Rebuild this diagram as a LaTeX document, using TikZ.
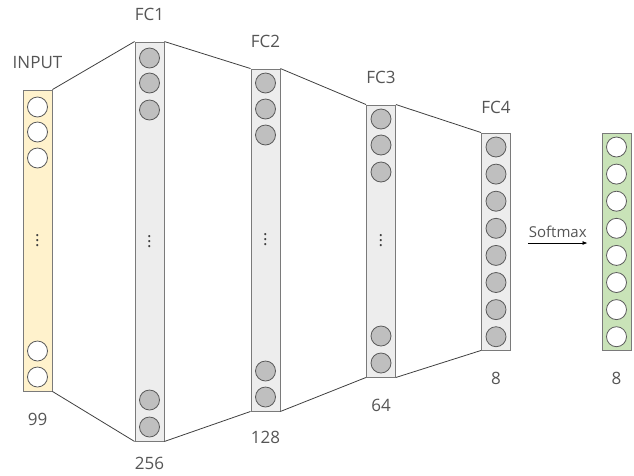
\documentclass[tikz,border=0pt]{standalone}
\usepackage{fontspec}
\setmainfont{Open Sans}
\usepackage{xcolor}
\usetikzlibrary{positioning,arrows.meta}

\definecolor{txtgray}{HTML}{555555}
\definecolor{linegray}{HTML}{404040}
\definecolor{bargray}{HTML}{7A7A7A}
\definecolor{fcfill}{HTML}{EDEDED}
\definecolor{infill}{HTML}{FFF2CC}
\definecolor{outfill}{HTML}{C9E3B8}
\definecolor{unitfill}{HTML}{BFBFBF}
\definecolor{unitline}{HTML}{5A5A5A}

\begin{document}
\begin{tikzpicture}[x=1pt,y=-1pt,
  bar/.style={draw=bargray, fill=fcfill, line width=0.9pt, minimum width=29pt, inner sep=0pt},
  unit/.style={circle, draw=unitline, fill=unitfill, line width=0.8pt, minimum size=20pt, inner sep=0pt},
  openunit/.style={unit, fill=white},
  lbl/.style={text=txtgray, font=\fontsize{17}{20}\selectfont, inner sep=0pt},
  link/.style={draw=linegray, line width=0.8pt}]
  \useasboundingbox (0,0) rectangle (634,475);

  % Layers
  \node[bar, fill=infill, minimum height=301pt] (in) at (37.5,240.5) {};
  \node[bar, minimum height=399pt] (fc1) at (149.5,241.5) {};
  \node[bar, minimum height=342pt] (fc2) at (265.5,240) {};
  \node[bar, minimum height=272pt] (fc3) at (381,241) {};
  \node[bar, minimum height=217pt] (fc4) at (496,241.5) {};
  \node[bar, fill=outfill, minimum height=217pt] (out) at (616.5,241.5) {};

  % Links between layers
  \draw[link] (in.north east) -- (fc1.north west);
  \draw[link] (in.south east) -- (fc1.south west);
  \draw[link] (fc1.north east) -- (fc2.north west);
  \draw[link] (fc1.south east) -- (fc2.south west);
  \draw[link] (fc2.north east) -- (fc3.north west);
  \draw[link] (fc2.south east) -- (fc3.south west);
  \draw[link] (fc3.north east) -- (fc4.north west);
  \draw[link] (fc3.south east) -- (fc4.south west);

  % Units
  \foreach \y [count=\i] in {107,132,158,351,377}
    \node[openunit] (in-\i) at (37.5,\y) {};
  \foreach \y [count=\i] in {58,83,110,400,427}
    \node[unit] (fc1-\i) at (149.5,\y) {};
  \foreach \y [count=\i] in {83,109,135,371,397}
    \node[unit] (fc2-\i) at (265.5,\y) {};
  \foreach \y [count=\i] in {119,145,172,336,363}
    \node[unit] (fc3-\i) at (381,\y) {};
  \foreach \i in {1,...,8} {
    \node[unit] (fc4-\i) at (496,{147+27.1*(\i-1)}) {};
    \node[openunit] (out-\i) at (616.5,{147+27.1*(\i-1)}) {};
  }

  % Skipped units
  \foreach \b in {in,fc1,fc2,fc3}
    \foreach \d [count=\k] in {-5,0,5}
      \node[lbl, text=linegray] (\b-dot\k) at ([yshift=-\d pt]\b.center) {.};

  % Names and sizes
  \node[lbl, above=21pt of in] (in-name) {INPUT};
  \node[lbl, above=21pt of fc1] (fc1-name) {FC1};
  \node[lbl, above=21pt of fc2] (fc2-name) {FC2};
  \node[lbl, above=21pt of fc3] (fc3-name) {FC3};
  \node[lbl, above=19pt of fc4] (fc4-name) {FC4};

  \node[lbl, below=22pt of in] (in-size) {99};
  \node[lbl, below=16pt of fc1] (fc1-size) {256};
  \node[lbl, below=20pt of fc2] (fc2-size) {128};
  \node[lbl, below=22pt of fc3] (fc3-size) {64};
  \node[lbl, below=22pt of fc4] (fc4-size) {8};
  \node[lbl, below=22pt of out] (out-size) {8};

  % Softmax
  \coordinate (sm-a) at ([xshift=17pt,yshift=-1.5pt]fc4.east);
  \coordinate (sm-b) at ([xshift=-14pt,yshift=-1.5pt]out.west);
  \draw[line width=0.8pt, -{Latex[length=5pt,width=4pt]}] (sm-a) -- (sm-b)
    node[midway, above=5pt, inner sep=0pt, text=txtgray, font=\fontsize{15}{18}\selectfont] (sm-name) {Softmax};
\end{tikzpicture}
\end{document}
